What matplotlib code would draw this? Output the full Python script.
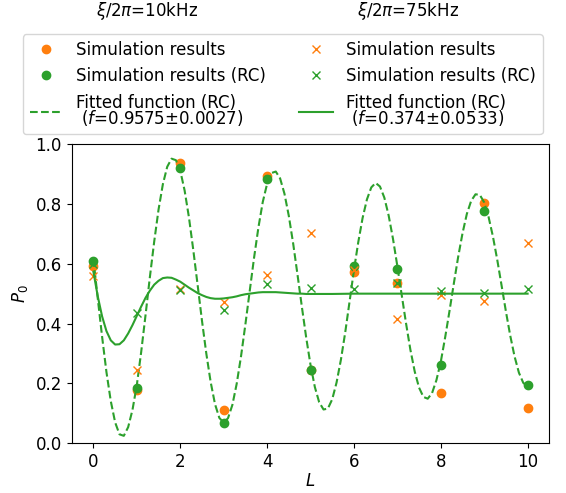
import numpy as np
import matplotlib
matplotlib.use('Agg')
import matplotlib.pyplot as plt

plt.rcParams['font.size'] = 12

# measurement points L = 0..10
L = np.arange(0, 11)

# xi/2pi = 10 kHz
p_sim_10 = [0.592, 0.178, 0.936, 0.111, 0.894, 0.244, 0.572, 0.536, 0.169, 0.803, 0.119]
p_rc_10 = [0.609, 0.186, 0.919, 0.067, 0.883, 0.244, 0.594, 0.583, 0.261, 0.777, 0.194]

# xi/2pi = 75 kHz
p_sim_75 = [0.558, 0.244, 0.517, 0.471, 0.564, 0.702, 0.580, 0.414, 0.497, 0.476, 0.670]
p_rc_75 = [0.600, 0.436, 0.513, 0.445, 0.531, 0.520, 0.514, 0.535, 0.510, 0.503, 0.517]

# fitted curves
L_fit = np.round(np.arange(0, 10.01, 0.1), 1)
fit_10 = [0.615, 0.484, 0.356, 0.238, 0.141, 0.070, 0.030, 0.025, 0.054, 0.112,
          0.195, 0.305, 0.428, 0.555, 0.674, 0.781, 0.866, 0.924, 0.951, 0.946,
          0.911, 0.845, 0.755, 0.646, 0.529, 0.410, 0.300, 0.205, 0.131, 0.085,
          0.069, 0.084, 0.128, 0.199, 0.291, 0.397, 0.509, 0.620, 0.721, 0.806,
          0.867, 0.903, 0.908, 0.885, 0.834, 0.760, 0.668, 0.564, 0.457, 0.354,
          0.262, 0.188, 0.137, 0.113, 0.116, 0.147, 0.203, 0.279, 0.371, 0.474,
          0.578, 0.672, 0.753, 0.815, 0.855, 0.870, 0.858, 0.821, 0.761, 0.683,
          0.592, 0.496, 0.401, 0.313, 0.240, 0.186, 0.155, 0.149, 0.168, 0.211,
          0.272, 0.353, 0.441, 0.533, 0.622, 0.701, 0.766, 0.810, 0.832, 0.830,
          0.805, 0.757, 0.692, 0.614, 0.528, 0.441, 0.360, 0.290, 0.236, 0.202,
          0.190]

L_fit75 = np.r_[np.round(np.arange(0, 5.01, 0.1), 1), np.arange(5.5, 10.01, 0.5)]
fit_75 = [0.573, 0.491, 0.424, 0.375, 0.344, 0.330, 0.331, 0.344, 0.367, 0.395,
          0.426, 0.457, 0.486, 0.510, 0.530, 0.543, 0.552, 0.554, 0.553, 0.547,
          0.540, 0.530, 0.520, 0.511, 0.502, 0.495, 0.489, 0.485, 0.483, 0.483,
          0.484, 0.486, 0.488, 0.491, 0.495, 0.498, 0.500, 0.502, 0.504, 0.505,
          0.505, 0.505, 0.505, 0.504, 0.503, 0.502, 0.501, 0.500, 0.500, 0.499,
          0.499,
          0.499, 0.500, 0.500, 0.500, 0.500, 0.500, 0.500, 0.500, 0.500, 0.500]

fig = plt.figure(figsize=(5.66, 4.93), dpi=100)
ax = fig.add_axes([0.1267, 0.1008, 0.8438, 0.6071])

h1, = ax.plot(L, p_sim_10, 'o', color='C1', label='Simulation results')
h2, = ax.plot(L, p_rc_10, 'o', color='C2', label='Simulation results (RC)')
h3, = ax.plot(L_fit, fit_10, '--', color='C2',
              label='Fitted function (RC)\n ($f$=0.9575±0.0027)')
h4, = ax.plot(L, p_sim_75, 'x', color='C1', label='Simulation results')
h5, = ax.plot(L, p_rc_75, 'x', color='C2', label='Simulation results (RC)')
h6, = ax.plot(L_fit75, fit_75, '-', color='C2',
              label='Fitted function (RC)\n ($f$=0.374±0.0533)')

ax.set_xlim(-0.5, 10.5)
ax.set_ylim(0, 1)
ax.set_xticks([0, 2, 4, 6, 8, 10])
ax.set_yticks([0.0, 0.2, 0.4, 0.6, 0.8, 1.0])
ax.set_xlabel('$L$', labelpad=1)
ax.set_ylabel('$P_0$')

leg = fig.legend(handles=[h1, h2, h3, h4, h5, h6], ncol=2, loc='upper center',
                 bbox_to_anchor=(0.4996, 0.9304), borderaxespad=0)
for t in leg.get_texts():
    t.set_linespacing(0.75)
fig.text(0.2606, 0.9767, r'$\xi/2\pi$=10kHz', ha='center', va='center', fontsize=12)
fig.text(0.7208, 0.9767, r'$\xi/2\pi$=75kHz', ha='center', va='center', fontsize=12)

fig.savefig('out.png', dpi=100)
